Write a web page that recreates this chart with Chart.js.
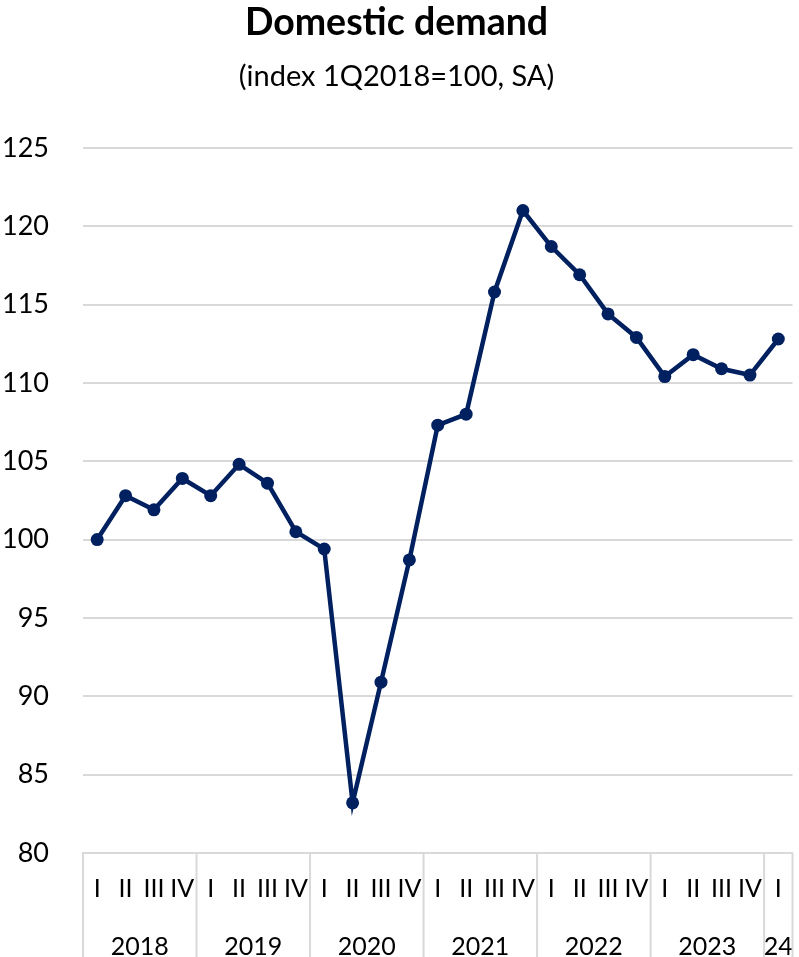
<!DOCTYPE html>
<html>
<head>
<meta charset="utf-8">
<title>Domestic demand</title>
<script src="https://cdn.jsdelivr.net/npm/chart.js@4/dist/chart.umd.min.js"></script>
<style>
  html, body { margin: 0; padding: 0; background: #ffffff; }
  #wrap { width: 799px; height: 957px; position: relative; }
</style>
</head>
<body>
<div id="wrap"><canvas id="chart" width="799" height="957"></canvas></div>
<script>
// Quarter labels along the x axis, one per observation
const quarters = [
  'I', 'II', 'III', 'IV',
  'I', 'II', 'III', 'IV',
  'I', 'II', 'III', 'IV',
  'I', 'II', 'III', 'IV',
  'I', 'II', 'III', 'IV',
  'I', 'II', 'III', 'IV',
  'I'
];

// Year groups: label and number of quarters in each group
const years = ['2018', '2019', '2020', '2021', '2022', '2023', '24'];
const quartersPerYear = [4, 4, 4, 4, 4, 4, 1];

// Domestic demand, index 1Q2018 = 100, seasonally adjusted
const domesticDemand = [
  100.0, 102.8, 101.9, 103.9,
  102.8, 104.8, 103.6, 100.5,
  99.4, 83.2, 90.9, 98.7,
  107.3, 108.0, 115.8, 121.0,
  118.7, 116.9, 114.4, 112.9,
  110.4, 111.8, 110.9, 110.5,
  112.8
];

// Y axis range and step
const yMin = 80;
const yMax = 125;
const yStep = 5;

const FONT = 'Lato, "Open Sans", "Liberation Sans", sans-serif';
const NAVY = '#002060';
const GRID = '#d9d9d9';

// Draws the year row under the quarter labels and the separators between years
const yearGroups = {
  id: 'yearGroups',
  afterDraw(chart) {
    const x = chart.scales.x;
    const ctx = chart.ctx;
    const top = chart.chartArea.bottom;
    const bottom = chart.height;
    const half = (x.getPixelForValue(1) - x.getPixelForValue(0)) / 2;
    ctx.save();
    ctx.strokeStyle = GRID;
    ctx.lineWidth = 2;
    ctx.fillStyle = '#000000';
    ctx.font = '25px ' + FONT;
    ctx.textAlign = 'center';
    ctx.textBaseline = 'middle';
    let start = 0;
    const edges = [x.getPixelForValue(0) - half];
    years.forEach((yr, i) => {
      const end = start + quartersPerYear[i] - 1;
      const left = x.getPixelForValue(start) - half;
      const right = x.getPixelForValue(end) + half;
      edges.push(right);
      ctx.fillText(yr, (left + right) / 2, 947);
      start = end + 1;
    });
    edges.forEach(px => {
      ctx.beginPath();
      ctx.moveTo(px, top);
      ctx.lineTo(px, bottom);
      ctx.stroke();
    });
    ctx.restore();
  }
};

new Chart(document.getElementById('chart'), {
  type: 'line',
  data: {
    labels: quarters,
    datasets: [{
      label: 'Domestic demand',
      data: domesticDemand,
      borderColor: NAVY,
      backgroundColor: NAVY,
      borderWidth: 4.5,
      pointRadius: 6.5,
      pointBorderWidth: 0,
      pointBackgroundColor: NAVY,
      tension: 0,
      fill: false
    }]
  },
  options: {
    responsive: false,
    animation: false,
    devicePixelRatio: 1,
    layout: { padding: { left: 0, right: 6, top: 0, bottom: 0 } },
    plugins: {
      legend: { display: false },
      tooltip: { enabled: false },
      title: {
        display: true,
        text: 'Domestic demand',
        color: '#000000',
        font: { family: FONT, size: 37.5, weight: 'bold' },
        padding: { top: 0, bottom: 14 }
      },
      subtitle: {
        display: true,
        text: '(index 1Q2018=100, SA)',
        color: '#000000',
        font: { family: FONT, size: 29 },
        padding: { top: 0, bottom: 54 }
      }
    },
    scales: {
      x: {
        type: 'category',
        offset: true,
        grid: { display: false, drawTicks: false },
        border: { display: true, color: GRID, width: 2 },
        ticks: {
          color: '#000000',
          font: { family: FONT, size: 25 },
          padding: 21,
          autoSkip: false,
          maxRotation: 0
        },
        afterFit(scale) {
          scale.height = 104;
          scale.paddingLeft = 0;
          scale.paddingRight = 0;
        }
      },
      y: {
        min: yMin,
        max: yMax,
        grid: { color: GRID, lineWidth: 2, drawTicks: false },
        border: { display: false },
        ticks: {
          stepSize: yStep,
          color: '#000000',
          font: { family: FONT, size: 27 },
          padding: 34
        },
        afterFit(scale) { scale.width = 83; }
      }
    }
  },
  plugins: [yearGroups]
});
</script>
</body>
</html>
